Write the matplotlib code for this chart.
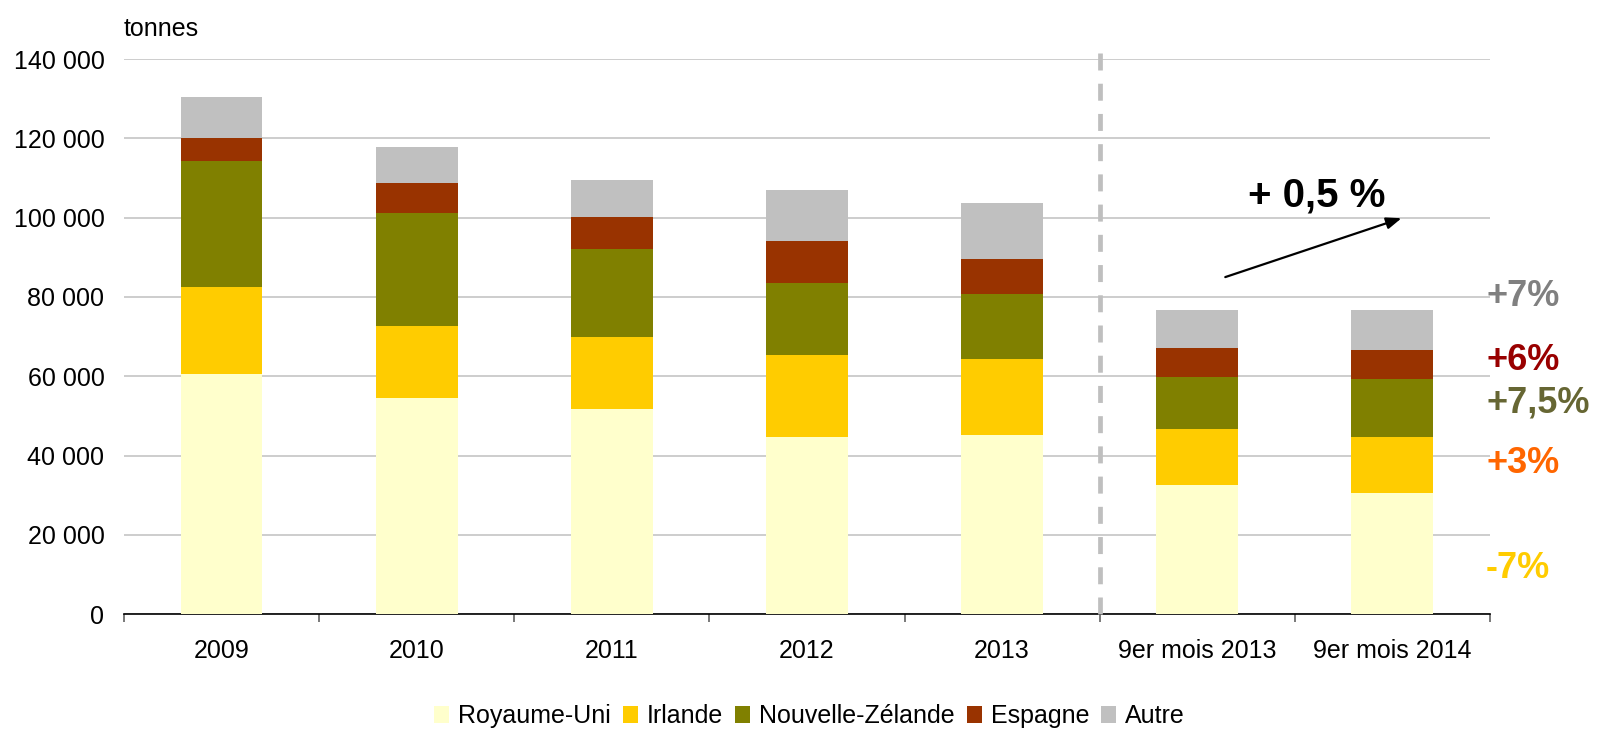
import matplotlib
matplotlib.use("Agg")
import matplotlib.pyplot as plt
import numpy as np

plt.rcParams['font.family'] = ['Liberation Sans', 'DejaVu Sans']

categories = ["2009", "2010", "2011", "2012", "2013", "9er mois 2013", "9er mois 2014"]
series_names = ["Royaume-Uni", "Irlande", "Nouvelle-Zélande", "Espagne", "Autre"]
royaume_uni = [60500, 54400, 51800, 44600, 45100, 32600, 30500]
irlande = [22100, 18200, 18200, 20800, 19300, 14100, 14100]
nouvelle_zelande = [31800, 28700, 22000, 18200, 16400, 13000, 14600]
espagne = [5600, 7400, 8300, 10500, 8700, 7500, 7500]
autre = [10500, 9200, 9200, 12800, 14300, 9500, 10000]
colors = ["#FFFFCC", "#FFCC00", "#808000", "#993300", "#C0C0C0"]

yticks = [0, 20000, 40000, 60000, 80000, 100000, 120000, 140000]
ytick_labels = ["0", "20 000", "40 000", "60 000", "80 000", "100 000", "120 000", "140 000"]

pct_labels = ["+7%", "+6%", "+7,5%", "+3%", "-7%"]
pct_y = [80000, 64000, 53200, 38100, 11600]
pct_colors = ["#808080", "#990000", "#666633", "#FF6600", "#FFCC00"]

total_label = "+ 0,5 %"

fig = plt.figure(figsize=(15.97, 7.31), dpi=100)
ax = fig.add_axes([0.0776, 0.160, 0.8554, 0.759])

x = np.arange(len(categories))
bottom = np.zeros(len(categories))
for name, vals, c in zip(series_names, [royaume_uni, irlande, nouvelle_zelande, espagne, autre], colors):
    ax.bar(x, vals, width=0.42, bottom=bottom, color=c, label=name, zorder=3)
    bottom += np.array(vals)

ax.set_xlim(-0.5, len(categories) - 0.5)
ax.set_ylim(0, 140000)
ax.set_yticks(yticks)
ax.set_yticklabels(ytick_labels, fontsize=18)
ax.tick_params(axis='y', length=0, pad=14)
ax.yaxis.grid(True, color="#C0C0C0", lw=1.1, zorder=0)
ax.set_axisbelow(True)

ax.set_xticks(x)
ax.set_xticklabels(categories, fontsize=18)
ax.tick_params(axis='x', which='major', length=0, pad=18)
ax.set_xticks(np.arange(-0.5, len(categories)), minor=True)
ax.tick_params(axis='x', which='minor', length=6, width=1.1, color="#555555", direction='out')

for s in ['left', 'right', 'top']:
    ax.spines[s].set_visible(False)
ax.spines['bottom'].set_color('black')
ax.spines['bottom'].set_linewidth(1.2)

ax.plot([4.5, 4.5], [0, 141500], color="#BFBFBF", lw=3.4, linestyle=(0, (3.6, 2.8)),
        clip_on=False, zorder=4, solid_capstyle='butt', dash_capstyle='butt')

ax.text(-0.5, 144500, "tonnes", fontsize=18, ha='left', va='bottom')

ax.annotate("", xy=(6.06, 100100), xytext=(5.13, 84800),
            arrowprops=dict(arrowstyle='-|>,head_length=0.9,head_width=0.35', color='black', lw=1.6))
ax.text(5.61, 105500, total_label, fontsize=29, fontweight='bold', ha='center', va='center')

for lab, yy, c in zip(pct_labels, pct_y, pct_colors):
    ax.text(6.48, yy, lab, fontsize=26, fontweight='bold', color=c, ha='left', va='center', clip_on=False)

fig.legend(loc='lower center', bbox_to_anchor=(0.507, -0.003), ncol=5, frameon=False, fontsize=18,
           borderaxespad=0, borderpad=0.2,
           handlelength=0.6, handleheight=0.64, handletextpad=0.36, columnspacing=0.48)

fig.savefig("out.png", dpi=100)
